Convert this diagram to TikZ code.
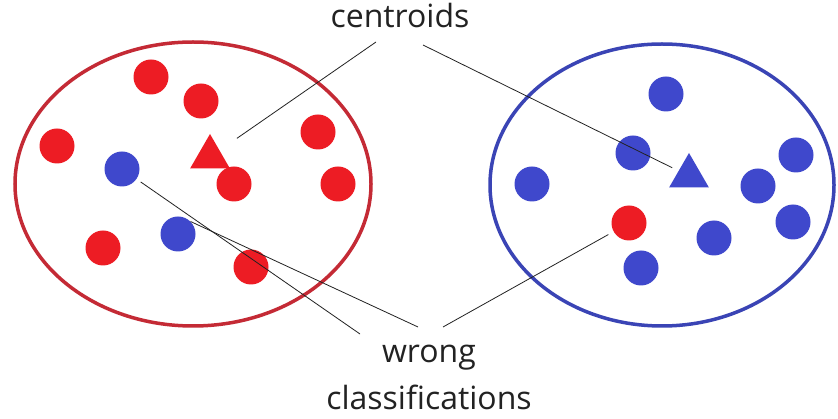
\documentclass[tikz,border=0pt]{standalone}
\usepackage{fontspec}
\setmainfont{Open Sans}
\usetikzlibrary{shapes.geometric}
\definecolor{DotRed}{HTML}{ED1C24}
\definecolor{DotBlue}{HTML}{3F48CC}
\definecolor{RingRed}{HTML}{C42A35}
\definecolor{RingBlue}{HTML}{3A44B5}
\definecolor{InkGray}{HTML}{222222}

\tikzset{
  dot/.style={circle, inner sep=0pt, minimum size=35pt},
  reddot/.style={dot, fill=DotRed},
  bluedot/.style={dot, fill=DotBlue},
  centroid/.style={regular polygon, regular polygon sides=3,
                   inner sep=0pt, minimum size=46pt},
  pointer/.style={draw=InkGray, line width=0.8pt},
  caption/.style={font=\fontsize{32}{47}\selectfont, text=InkGray,
                  align=center, inner sep=0pt}
}

\begin{document}
\begin{tikzpicture}[x=1pt, y=-1pt]
        \fill[white] (0,0) rectangle (838,419);
        \useasboundingbox (0,0) rectangle (838,419);

        % the two clusters
        \draw[RingRed, line width=3.5pt] (193,184) ellipse [x radius=178, y radius=142];
        \draw[RingBlue, line width=3.5pt] (662,185) ellipse [x radius=172, y radius=141];

        % red cluster
        \node[reddot] (r1) at (151,77) {};
        \node[reddot] (r2) at (201,101) {};
        \node[reddot] (r3) at (57,146) {};
        \node[reddot] (r4) at (318,132) {};
        \node[reddot] (r5) at (234,184) {};
        \node[reddot] (r6) at (338,184) {};
        \node[reddot] (r7) at (103,248) {};
        \node[reddot] (r8) at (251,267) {};
        \node[bluedot] (b1) at (122,169) {};
        \node[bluedot] (b2) at (178,234) {};
        \node[centroid, fill=DotRed] (redc) at (210,157) {};

        % blue cluster
        \node[bluedot] (b3) at (666,94) {};
        \node[bluedot] (b4) at (633,153) {};
        \node[bluedot] (b5) at (796,155) {};
        \node[bluedot] (b6) at (532,184) {};
        \node[bluedot] (b7) at (758,186) {};
        \node[bluedot] (b8) at (793,222) {};
        \node[bluedot] (b9) at (714,238) {};
        \node[bluedot] (b10) at (641,268) {};
        \node[reddot] (r9) at (629,223) {};
        \node[centroid, fill=DotBlue] (bluec) at (689,176) {};

        % labels
        \node[caption, anchor=base] (cent) at (400,28) {centroids};
        \node[caption] (wrong) at (429,377.5) {wrong\\classifications};

        \coordinate (c1) at (376,42);
        \coordinate (c2) at (423,45);
        \coordinate (w1) at (360,334);
        \coordinate (w2) at (418,327);
        \coordinate (w3) at (443,327);

        \draw[pointer, shorten >=21pt] (c1) -- (redc);
        \draw[pointer, shorten >=7pt] (c2) -- (bluec);
        \draw[pointer, shorten >=5pt] (w1) -- (b1);
        \draw[pointer] (w2) -- (b2.north east);
        \draw[pointer, shorten >=6pt] (w3) -- (r9);
      \end{tikzpicture}
\end{document}
